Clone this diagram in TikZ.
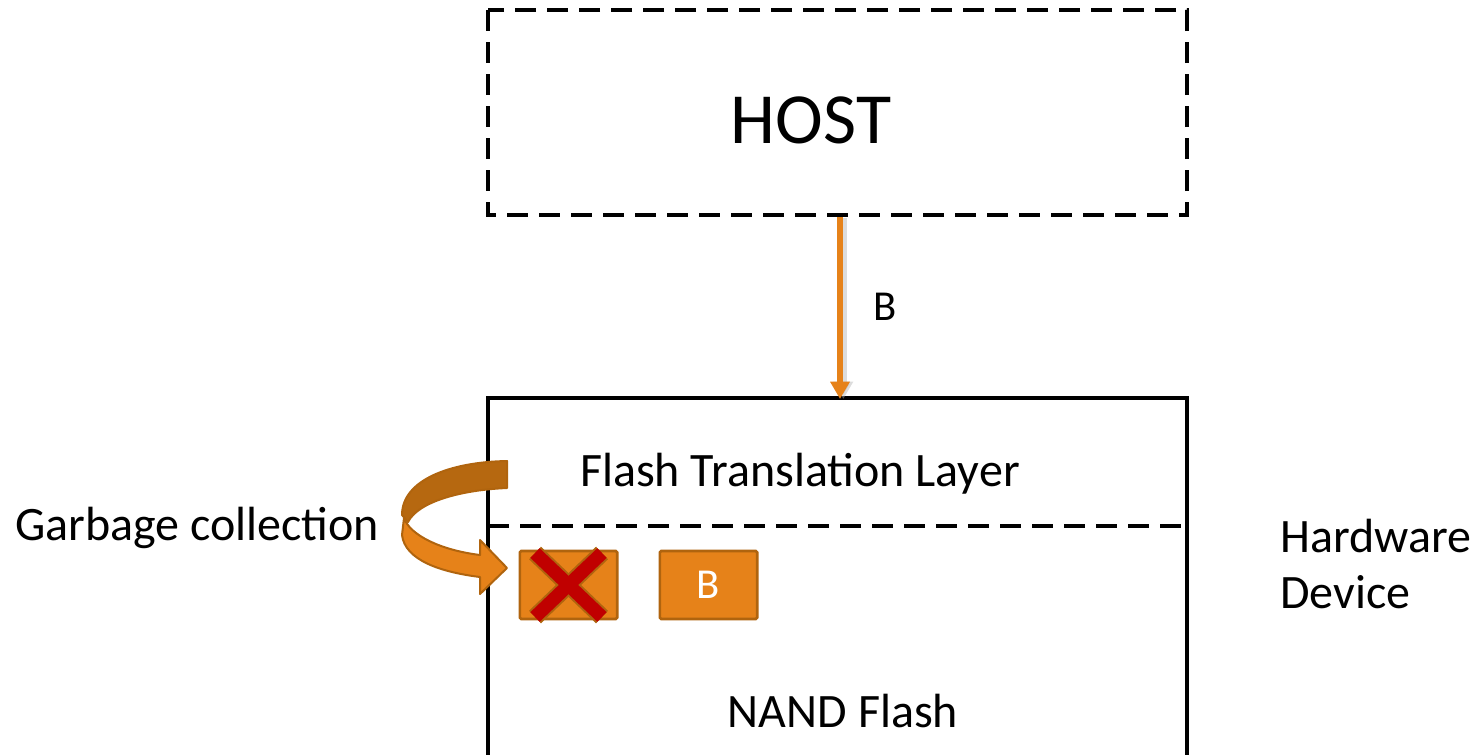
\documentclass[tikz,border=0pt]{standalone}
\usepackage{fontspec}
\setmainfont{Carlito}
\usetikzlibrary{arrows.meta}
\definecolor{orfill}{RGB}{230,130,25}
\definecolor{ordark}{RGB}{176,100,14}
\definecolor{orback}{RGB}{182,104,16}
\definecolor{xred}{RGB}{192,0,0}
\tikzset{
  lbl/.style={inner sep=0pt,font=\fontsize{36}{43}\selectfont},
  boxline/.style={line width=2.4pt},
  dashline/.style={line width=2.4pt,dash pattern=on 16pt off 8pt},
  blk/.style={draw=ordark,fill=orfill,line width=2pt,rounded corners=1pt,minimum width=73pt,minimum height=51pt,inner sep=0pt},
}
\begin{document}
\begin{tikzpicture}[x=0.75pt,y=-0.75pt]
\useasboundingbox (0,0) rectangle (1478,754);
% host
\draw[dashline] (488,10) rectangle (1187,215);
\node[lbl,font=\fontsize{54}{64}\selectfont,anchor=base] (host) at (811,143) {HOST};
\coordinate (hostb) at (840,217);
% device
\draw[boxline] (488,760) -- (488,398) -- (1187,398) -- (1187,760);
\coordinate (devt) at (840,399);
\draw[dashline] (488,526) -- (1187,526);
\node[lbl,anchor=base] (ftl) at (800,486) {Flash Translation Layer};
\node[lbl,anchor=base] (nand) at (843,727) {NAND Flash};
\node[lbl,anchor=base west,align=left] (hw) at (1280,552) {Hardware};
\node[lbl,anchor=base west,align=left] (dev) at (1280,608) {Device};
\node[lbl,anchor=base west] (gc) at (15,540) {Garbage collection};
% arrow host -> device
\draw[black!30,opacity=0.45,line width=5pt,-{Triangle[width=14pt,length=13pt]}] ([xshift=2.5pt,yshift=-1pt]hostb) -- ([xshift=2.5pt]devt);
\draw[orfill,line width=5pt,-{Triangle[width=14pt,length=13pt]}] (hostb) -- (devt);
\node[lbl,font=\fontsize{32}{38}\selectfont,anchor=base west] (bl) at (873,320) {B};
% blocks
\node[blk] (xb) at (568.5,585) {};
\node[blk] (bb) at (708.5,585) {};
\node[lbl,font=\fontsize{32}{38}\selectfont,text=white] at (bb.center) {B};
% red X
\draw[ordark,line width=13pt] (535,553) -- (602,617);
\draw[ordark,line width=13pt] (602,553) -- (535,617);
\draw[xred,line width=10pt] (535,553) -- (602,617);
\draw[xred,line width=10pt] (602,553) -- (535,617);
% curved GC arrow
\draw[draw=ordark,fill=orback,line width=1.5pt,line join=round]
  (507,461) -- (507,488) .. controls (460,490) and (418,502) .. (408,522)
  -- (402,515) .. controls (402,480) and (450,462) .. cycle;
\draw[draw=ordark,fill=orfill,line width=1.5pt,line join=round]
  (404,518) .. controls (410,535) and (440,550) .. (480,555)
  -- (480,540) -- (507,568) -- (480,594) -- (480,577)
  .. controls (440,572) and (405,560) .. (402,535) -- cycle;
\end{tikzpicture}
\end{document}
